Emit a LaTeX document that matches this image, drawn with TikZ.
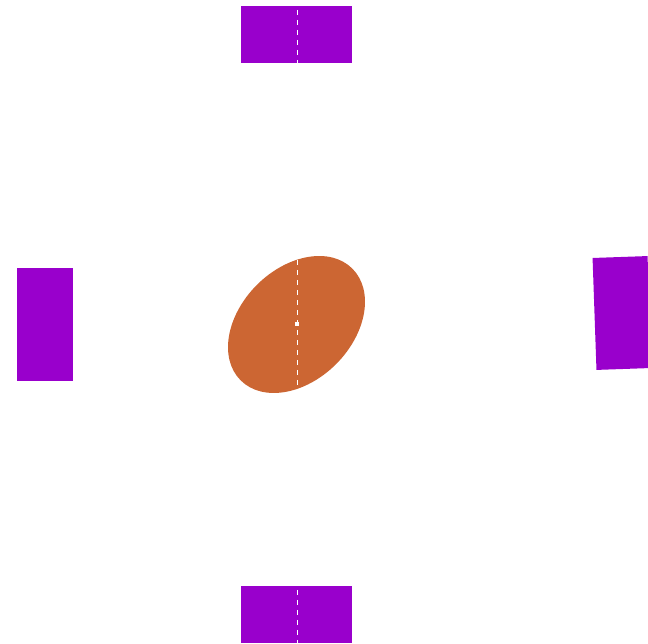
\documentclass[tikz,border=0pt]{standalone}
\definecolor{vio}{RGB}{153,0,204}
\definecolor{ora}{RGB}{204,102,51}
\tikzset{
  pad/.style={fill=vio, draw=none, minimum width=#1, inner sep=0pt, outer sep=0pt},
  axisline/.style={white, line width=1pt, dash pattern=on 5pt off 5pt},
}
\begin{document}
\begin{tikzpicture}[x=1pt,y=1pt]
\useasboundingbox (0,0) rectangle (648,644);
\clip (0,0) rectangle (648,644);
% top and bottom pads
\node[pad=111pt, minimum height=57pt] (top) at (296.5,609.5) {};
\node[pad=111pt, minimum height=57pt] (bot) at (296.5,29.5) {};
% left pad
\node[pad=56pt, minimum height=113pt] (left) at (45,319.5) {};
% right pad, slightly tilted
\node[pad=55pt, minimum height=112pt, rotate=2] (right) at (622,331) {};
% central ellipse
\fill[ora, rotate around={45:(296.5,319.5)}] (296.5,319.5) ellipse [x radius=79, y radius=56];
\coordinate (c) at (297,320);
% dashed axis
\coordinate (axtop) at (297,644);
\coordinate (axbot) at (297,0);
\draw[axisline] (axtop) -- (axbot);
\fill[white] (c) ++(-2,-2) rectangle ++(4,4);
\end{tikzpicture}
\end{document}
